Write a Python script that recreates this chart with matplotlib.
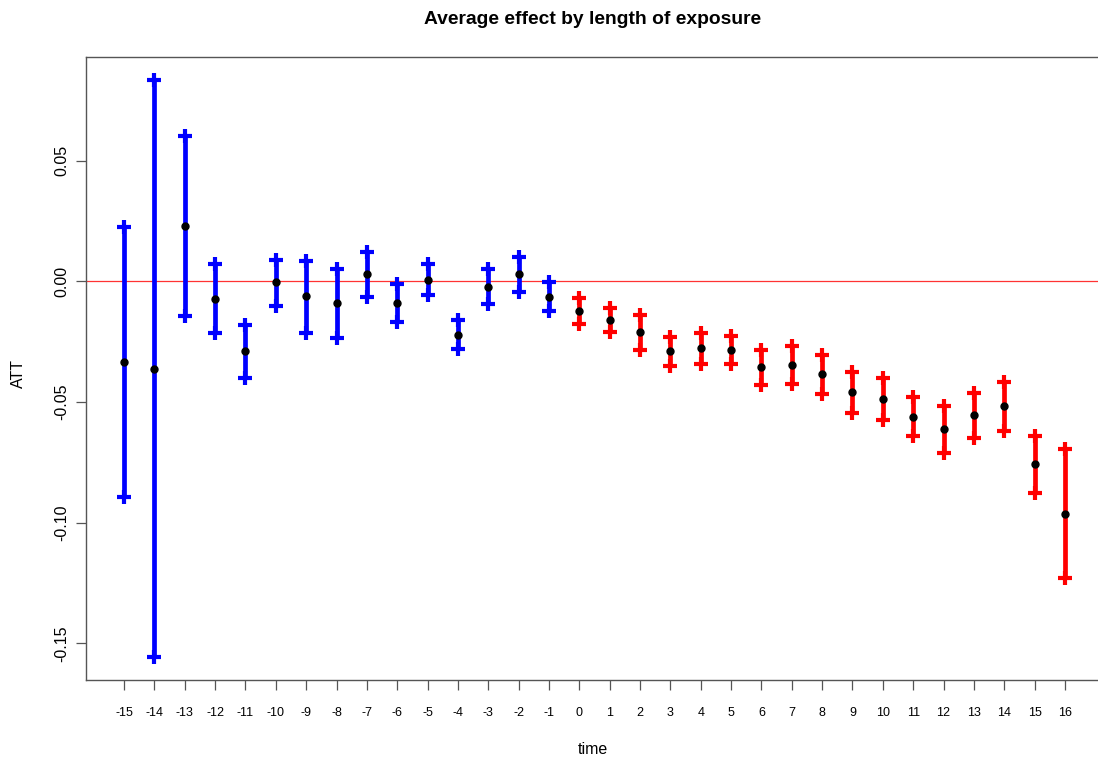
import matplotlib
matplotlib.use("Agg")
import matplotlib.pyplot as plt

plt.rcParams["font.family"] = ["Liberation Sans", "DejaVu Sans"]

# event time
times = list(range(-15, 17))

# point estimates
att = [-0.0335, -0.0364, 0.0230, -0.0072, -0.0291, -0.0003, -0.0062, -0.0091,
       0.0028, -0.0090, 0.0006, -0.0222, -0.0023, 0.0029, -0.0065,
       -0.0123, -0.0160, -0.0212, -0.0289, -0.0278, -0.0286, -0.0355, -0.0348,
       -0.0386, -0.0460, -0.0486, -0.0562, -0.0614, -0.0556, -0.0518, -0.0759,
       -0.0964]

# upper confidence bound
upper = [0.0224, 0.0833, 0.0603, 0.0072, -0.0181, 0.0088, 0.0085, 0.0051,
         0.0122, -0.0011, 0.0072, -0.0160, 0.0051, 0.0099, -0.0004,
         -0.0070, -0.0109, -0.0139, -0.0230, -0.0213, -0.0226, -0.0284, -0.0270,
         -0.0307, -0.0376, -0.0399, -0.0479, -0.0516, -0.0461, -0.0417, -0.0642,
         -0.0697]

# lower confidence bound
lower = [-0.0892, -0.1556, -0.0144, -0.0214, -0.0400, -0.0101, -0.0214, -0.0234,
         -0.0067, -0.0169, -0.0056, -0.0282, -0.0096, -0.0043, -0.0125,
         -0.0176, -0.0212, -0.0284, -0.0350, -0.0341, -0.0344, -0.0428, -0.0424,
         -0.0467, -0.0544, -0.0573, -0.0642, -0.0711, -0.0651, -0.0620, -0.0876,
         -0.1231]

W, H = 1098, 760
fig = plt.figure(figsize=(W / 100, H / 100), dpi=100)
# right edge of the box falls outside the picture, as in the reference
ax = fig.add_axes([86.4 / W, 1 - 680 / H, 1016.2 / W, 623 / H])

for t, a, lo, hi in zip(times, att, lower, upper):
    col = "#0000FF" if t < 0 else "#FF0000"
    ax.plot([t, t], [lo, hi], color=col, lw=3.4, solid_capstyle="butt", zorder=2)
    ax.plot([t, t], [lo, hi], ls="none", marker="+", ms=10.5, mew=3.0, color=col, zorder=2)

ax.plot(times, att, ls="none", marker="o", ms=5, color="black", zorder=3)
ax.axhline(0, color="#FF0000", lw=0.9, alpha=0.8, zorder=1)

ax.set_xlim(-16.24, 17.24)
ax.set_ylim(-0.1652, 0.0929)
ax.set_xticks(times)
ax.set_xticklabels([str(t) for t in times], fontsize=9)
ax.set_yticks([-0.15, -0.10, -0.05, 0.0, 0.05])
ax.set_yticklabels(["-0.15", "-0.10", "-0.05", "0.00", "0.05"], fontsize=11.5,
                   rotation=90, va="center")
ax.tick_params(axis="both", length=7.5, width=0.9, color="#555555")
ax.tick_params(axis="x", pad=12)
ax.tick_params(axis="y", pad=5)
for s in ax.spines.values():
    s.set_color("#555555")
    s.set_linewidth(1.0)

fig.text(593 / W, 1 - 750 / H, "time", ha="center", va="center", fontsize=11.5)
fig.text(18 / W, 1 - 374 / H, "ATT", ha="center", va="center", fontsize=11.5,
         rotation=90)
fig.text(593 / W, 1 - 20 / H, "Average effect by length of exposure",
         ha="center", va="center", fontsize=13.9, fontweight="bold")

fig.savefig("out.png", dpi=100)
